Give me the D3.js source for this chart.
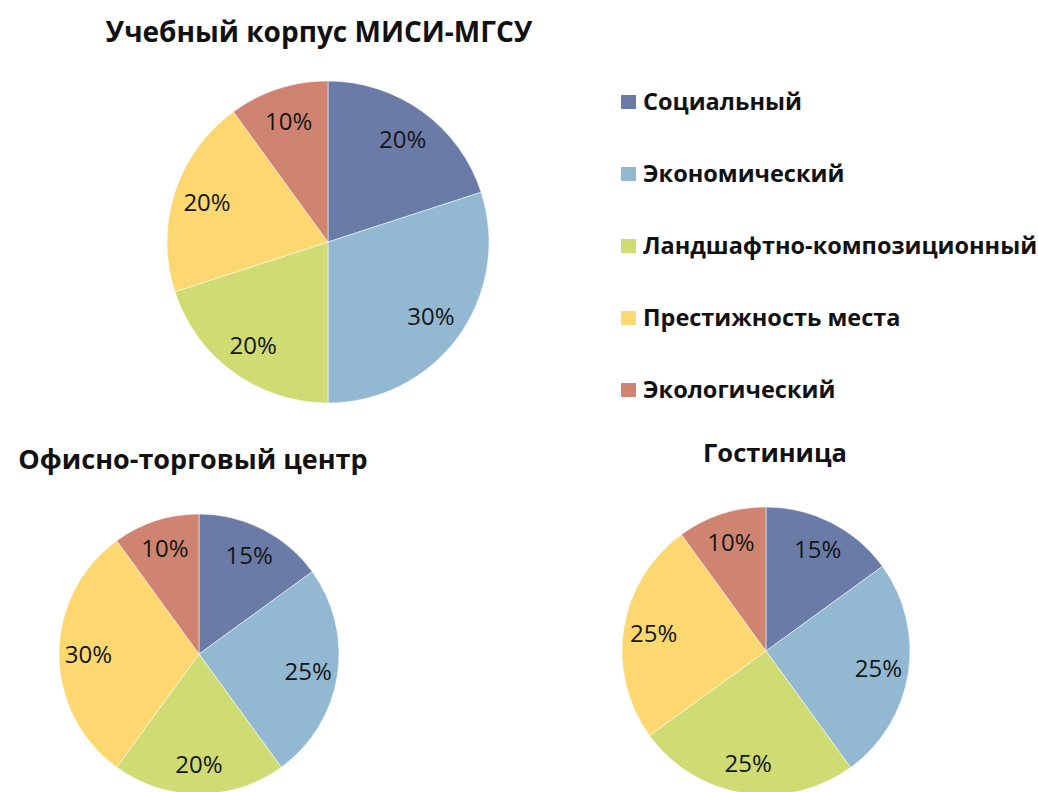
<!DOCTYPE html>
<html>
<head>
<meta charset="utf-8">
<script src="https://cdn.jsdelivr.net/npm/d3@7"></script>
<style>
  body { margin: 0; background: #fff; }
  text { font-family: "Open Sans", "DejaVu Sans", sans-serif; }
</style>
</head>
<body>
<div id="chart"></div>
<script>
// categories, same order in every pie (clockwise from 12 o'clock)
const categories = ["Социальный", "Экономический", "Ландшафтно-композиционный", "Престижность места", "Экологический"];
const titles = ["Учебный корпус МИСИ-МГСУ", "Офисно-торговый центр", "Гостиница"];
const campusValues = [20, 30, 20, 20, 10];
const officeValues = [15, 25, 20, 30, 10];
const hotelValues  = [15, 25, 25, 25, 10];

const colors = ["#6b7ba8", "#93b9d2", "#cfdc74", "#fdd770", "#cf8471"];

const width = 1038, height = 792;

const svg = d3.select("#chart").append("svg")
    .attr("width", width)
    .attr("height", height);

const color = d3.scaleOrdinal().domain(categories).range(colors);

// where each pie sits
const pies = [
  {title: titles[0], values: campusValues, cx: 328, cy: 242, r: 161, tx: 319, ty: 42, fs: 28},
  {title: titles[1], values: officeValues, cx: 199, cy: 654, r: 140, tx: 193, ty: 469, fs: 27},
  {title: titles[2], values: hotelValues,  cx: 766, cy: 651, r: 144, tx: 775, ty: 462, fs: 25.5}
];

const pie = d3.pie().sort(null).value(d => d.value);

pies.forEach(p => {
  const data = categories.map((c, i) => ({name: c, value: p.values[i]}));
  const arc = d3.arc().innerRadius(0).outerRadius(p.r);
  const labelArc = d3.arc().innerRadius(p.r * 0.79).outerRadius(p.r * 0.79);

  const g = svg.append("g")
      .attr("transform", "translate(" + p.cx + "," + p.cy + ")");

  g.selectAll("path")
    .data(pie(data))
    .enter().append("path")
      .attr("d", arc)
      .attr("fill", d => color(d.data.name))
      .attr("stroke", "#ffffff")
      .attr("stroke-opacity", 0.5)
      .attr("stroke-width", 1);

  g.selectAll("text.lbl")
    .data(pie(data))
    .enter().append("text")
      .attr("class", "lbl")
      .attr("transform", d => "translate(" + labelArc.centroid(d) + ")")
      .attr("text-anchor", "middle")
      .attr("dy", "0.36em")
      .style("font-size", "24px")
      .style("fill", "#161616")
      .text(d => d.data.value + "%");

  svg.append("text")
    .attr("x", p.tx)
    .attr("y", p.ty)
    .attr("text-anchor", "middle")
    .style("font-size", p.fs + "px")
    .style("font-weight", "bold")
    .style("fill", "#111")
    .text(p.title);
});

// legend
const legend = svg.append("g").attr("transform", "translate(621,0)");
const rows = legend.selectAll("g")
  .data(categories)
  .enter().append("g")
    .attr("transform", (d, i) => "translate(0," + (102 + i * 72) + ")");

rows.append("rect")
  .attr("x", 0)
  .attr("y", -7)
  .attr("width", 15)
  .attr("height", 14)
  .attr("fill", d => color(d));

rows.append("text")
  .attr("x", 22)
  .attr("dy", "0.36em")
  .style("font-size", "23.5px")
  .style("font-weight", "bold")
  .style("fill", "#111")
  .text(d => d);
</script>
</body>
</html>
